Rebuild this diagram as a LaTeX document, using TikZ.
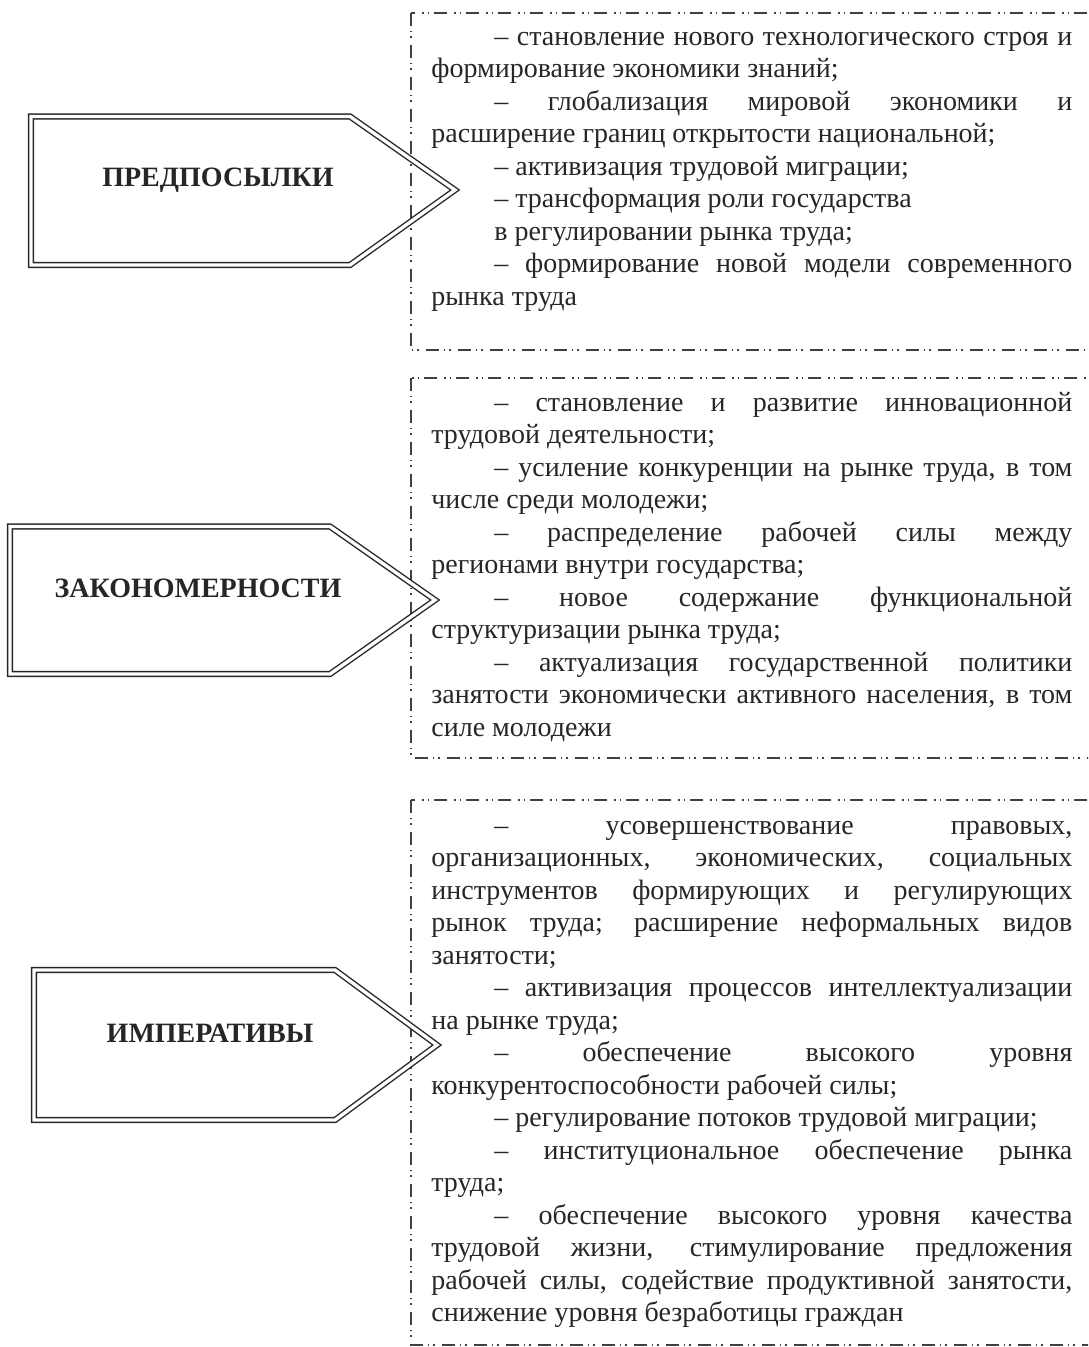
\documentclass[tikz,border=0pt]{standalone}
\usepackage{fontspec}
\setmainfont{Liberation Serif}
\usepackage{tikz}
\newcommand{\para}{\par\noindent\hspace*{31.5pt}}

\begin{document}
\begin{tikzpicture}[x=0.5pt, y=-0.5pt,
    tag/.style={draw=black!85, double=white, double distance=1.7pt, line width=0.7pt, line join=miter},
    tagtext/.style={anchor=base, inner sep=0pt, font=\fontsize{14}{16}\selectfont\bfseries, text=black!85},
    dashbox/.style={draw=black!75, line width=0.6pt, dash pattern=on 6.5pt off 2.5pt on 0.7pt off 2pt on 0.7pt off 3.6pt},
    listtext/.style={anchor=north west, inner sep=0pt, text width=320.5pt, align=justify, text=black!85,
        font=\fontsize{14}{16.25}\selectfont,
        execute at begin node={\tolerance=10000 \hbadness=10000 \hfuzz=20pt \hyphenpenalty=10000}}]
    \useasboundingbox (0,0) rectangle (1088,1347);
    \clip (0,0) rectangle (1088,1347);

    \draw[dashbox] (411,13) rectangle (1100,350);
    \draw[dashbox] (411,378) rectangle (1100,758);
    \draw[dashbox] (411,800) rectangle (1100,1345);

    \draw[tag] (31,116.5) -- (350,116.5) -- (455,190) -- (350,265) -- (31,265) -- cycle;
    \draw[tag] (10,526.5) -- (330,526.5) -- (435,600) -- (330,674) -- (10,674) -- cycle;
    \draw[tag] (34,970) -- (335,970) -- (437,1045) -- (335,1120) -- (34,1120) -- cycle;

    \node[tagtext] (prem) at (218,187) {ПРЕДПОСЫЛКИ};
    \node[tagtext] (patt) at (198,597) {ЗАКОНОМЕРНОСТИ};
    \node[tagtext] (imper) at (210,1042) {ИМПЕРАТИВЫ};

    \node[listtext] (premlist) at (431,12.6) {%
        \para\strut – становление нового технологического строя и\linebreak
        формирование экономики знаний;
        \para – глобализация мировой экономики и\linebreak
        расширение границ открытости национальной;
        \para – активизация трудовой миграции;
        \para – трансформация роли государства
        \para в регулировании рынка труда;
        \para – формирование новой модели современного\linebreak
        рынка труда};

    \node[listtext] (pattlist) at (431,378.4) {%
        \para\strut – становление и развитие инновационной\linebreak
        трудовой деятельности;
        \para – усиление конкуренции на рынке труда, в том\linebreak
        числе среди молодежи;
        \para – распределение рабочей силы между\linebreak
        регионами внутри государства;
        \para – новое содержание функциональной\linebreak
        структуризации рынка труда;
        \para – актуализация государственной политики\linebreak
        занятости экономически активного населения, в том\linebreak
        силе молодежи};

    \node[listtext] (imperlist) at (431,801.4) {%
        \para\strut – усовершенствование правовых,\linebreak
        организационных, экономических, социальных\linebreak
        инструментов формирующих и регулирующих\linebreak
        рынок труда; расширение неформальных видов\linebreak
        занятости;
        \para – активизация процессов интеллектуализации\linebreak
        на рынке труда;
        \para – обеспечение высокого уровня\linebreak
        конкурентоспособности рабочей силы;
        \para – регулирование потоков трудовой миграции;
        \para – институциональное обеспечение рынка\linebreak
        труда;
        \para – обеспечение высокого уровня качества\linebreak
        трудовой жизни, стимулирование предложения\linebreak
        рабочей силы, содействие продуктивной занятости,\linebreak
        снижение уровня безработицы граждан};
\end{tikzpicture}
\end{document}
